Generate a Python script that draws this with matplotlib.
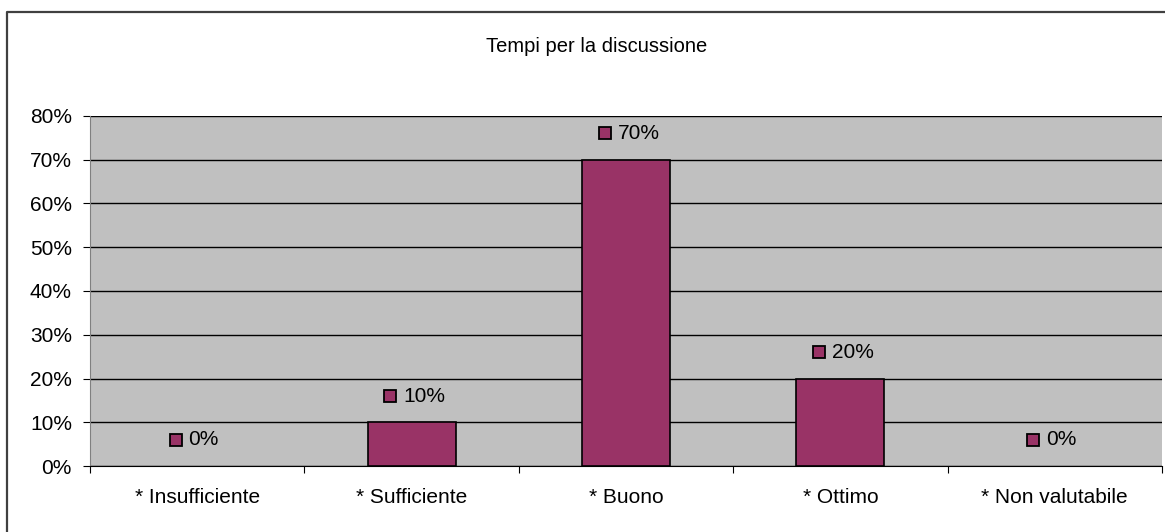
import matplotlib.pyplot as plt
from matplotlib.lines import Line2D
import numpy as np

plt.rcParams['font.family'] = ['Liberation Sans', 'DejaVu Sans']

categories = ['* Insufficiente', '* Sufficiente', '* Buono', '* Ottimo', '* Non valutabile']
values = [0, 10, 70, 20, 0]
title = 'Tempi per la discussione'
bar_color = '#993366'

fig = plt.figure(figsize=(11.65, 5.32), dpi=100)
# chart frame: only top and left edges fall inside the picture
fig.lines.append(Line2D([7 / 1165, 7 / 1165, 1.0], [0.0, 1 - 12 / 532, 1 - 12 / 532],
                        transform=fig.transFigure, color='#404040', linewidth=1.6))

ax = fig.add_axes([90 / 1165, 66 / 532, 1072 / 1165, 350 / 532])
ax.set_facecolor('#C0C0C0')

x = np.arange(len(categories))
edges = ['black' if v > 0 else 'none' for v in values]
ax.bar(x, values, width=0.41, color=bar_color, edgecolor=edges, linewidth=1.2, zorder=3)

# data labels: small square + percent text
for xi, v in zip(x, values):
    ly = v + 6
    ax.plot(xi - 0.1, ly, marker='s', markersize=8, color=bar_color,
            markeredgecolor='black', markeredgewidth=1.3, zorder=4, clip_on=False)
    ax.text(xi - 0.04, ly, f'{v}%', va='center', ha='left', fontsize=15, zorder=4)

ax.set_xlim(-0.5, len(categories) - 0.5)
ax.set_ylim(0, 80)
ax.set_yticks(range(0, 81, 10))
ax.set_yticklabels([f'{t}%' for t in range(0, 81, 10)], fontsize=15)
ax.yaxis.grid(True, color='black', linewidth=1)
ax.set_axisbelow(True)

ax.set_xticks(np.arange(-0.5, len(categories), 1.0))
ax.set_xticklabels([])
ax.set_xticks(x, minor=True)
ax.set_xticklabels(categories, minor=True, fontsize=15)
ax.tick_params(axis='x', which='minor', length=0, pad=16)
ax.tick_params(axis='x', which='major', length=5, direction='out')
ax.tick_params(axis='y', length=5, direction='out', pad=8)

for s in ['top', 'right']:
    ax.spines[s].set_visible(False)
ax.spines['left'].set_color('#808080')
ax.spines['bottom'].set_color('black')

fig.text(597 / 1165, 1 - 47 / 532, title, ha='center', va='center', fontsize=14.5)

fig.savefig('out.png', dpi=100)
